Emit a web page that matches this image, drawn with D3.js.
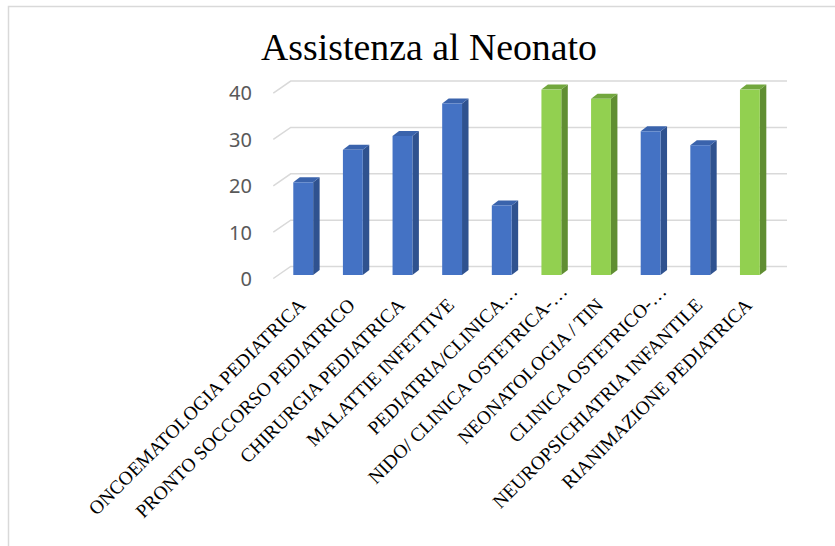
<!DOCTYPE html>
<html>
<head>
<meta charset="utf-8">
<script src="https://cdn.jsdelivr.net/npm/d3@7"></script>
<style>
  body { margin: 0; background: #fff; }
  svg { display: block; }
</style>
</head>
<body>
<div id="chart"></div>
<script>
// data
const categories = [
  'ONCOEMATOLOGIA PEDIATRICA',
  'PRONTO SOCCORSO PEDIATRICO',
  'CHIRURGIA PEDIATRICA',
  'MALATTIE INFETTIVE',
  'PEDIATRIA/CLINICA…',
  'NIDO/ CLINICA OSTETRICA-…',
  'NEONATOLOGIA / TIN',
  'CLINICA OSTETRICO-…',
  'NEUROPSICHIATRIA INFANTILE',
  'RIANIMAZIONE PEDIATRICA',
];
const values = [20, 27, 30, 37, 15, 40, 38, 31, 28, 40];
const highlighted = ['NIDO/ CLINICA OSTETRICA-…', 'NEONATOLOGIA / TIN', 'RIANIMAZIONE PEDIATRICA'];
const yTicks = [0, 10, 20, 30, 40];
const title = 'Assistenza al Neonato';

const width = 835;
const height = 546;

// 3d-ish offsets
const depth = { dx: 17.4, dy: 12 }; // floor / wall depth
const barDepth = { dx: 6.5, dy: 5 };
const frontShift = 12.3;

const palette = {
  normal: { front: '#4472C4', side: '#2F528F', top: '#3A63AC' },
  highlight: { front: '#92D050', side: '#608E32', top: '#72A73E' },
};

const svg = d3.select('#chart').append('svg')
  .attr('width', width)
  .attr('height', height);

// outer chart frame (runs off the page to the right and bottom)
svg.append('rect')
  .attr('x', 8.5)
  .attr('y', 6.5)
  .attr('width', 900)
  .attr('height', 700)
  .attr('fill', 'none')
  .attr('stroke', '#d9d9d9')
  .attr('stroke-width', 1.5);

svg.append('text')
  .attr('x', 429)
  .attr('y', 60)
  .attr('text-anchor', 'middle')
  .style('font-family', '"Liberation Serif", "Times New Roman", serif')
  .style('font-size', '37.8px')
  .style('fill', '#000')
  .text(title);

const x = d3.scaleBand()
  .domain(categories)
  .range([290.7, 787])
  .paddingInner(0.6)
  .paddingOuter(0.3);

const y = d3.scaleLinear()
  .domain([0, 40])
  .range([275, 89.6]);

// back wall gridlines with the floor diagonal on the left
const grid = svg.append('g').attr('class', 'grid');
yTicks.forEach((t) => {
  const yb = y(t) - 8.5;
  grid.append('path')
    .attr('d', `M${x.range()[0] - depth.dx},${yb + depth.dy}L${x.range()[0]},${yb}L${x.range()[1]},${yb}`)
    .attr('fill', 'none')
    .attr('stroke', '#d9d9d9')
    .attr('stroke-width', 1.5);
});

// y tick labels
svg.append('g').selectAll('text')
  .data(yTicks)
  .enter()
  .append('text')
  .attr('x', 252)
  .attr('y', (d) => y(d) + 5.5)
  .attr('text-anchor', 'end')
  .attr('dominant-baseline', 'middle')
  .style('font-family', '"Noto Sans", "Open Sans", sans-serif')
  .style('font-size', '20px')
  .style('fill', '#595959')
  .text((d) => d);

const data = categories.map((c, i) => ({ name: c, value: values[i] }));
const colorOf = (d) => (highlighted.includes(d.name) ? palette.highlight : palette.normal);

const bars = svg.append('g').selectAll('.bar')
  .data(data)
  .enter()
  .append('g')
  .attr('class', 'bar');

const bw = x.bandwidth();
const bx = (d) => x(d.name) - frontShift;

bars.append('path')
  .attr('d', (d) => {
    const x0 = bx(d) + bw;
    return `M${x0},${y(d.value)}L${x0 + barDepth.dx},${y(d.value) - barDepth.dy}`
      + `L${x0 + barDepth.dx},${y(0) - barDepth.dy}L${x0},${y(0)}Z`;
  })
  .attr('fill', (d) => colorOf(d).side);

bars.append('path')
  .attr('d', (d) => {
    const x0 = bx(d);
    const yt = y(d.value);
    return `M${x0},${yt}L${x0 + barDepth.dx},${yt - barDepth.dy}`
      + `L${x0 + bw + barDepth.dx},${yt - barDepth.dy}L${x0 + bw},${yt}Z`;
  })
  .attr('fill', (d) => colorOf(d).top);

bars.append('rect')
  .attr('x', bx)
  .attr('y', (d) => y(d.value))
  .attr('width', bw)
  .attr('height', (d) => y(0) - y(d.value))
  .attr('fill', (d) => colorOf(d).front);

// rotated category labels; a trailing ellipsis hangs past the anchor point
const labelFont = (sel) => sel
  .style('font-family', '"Liberation Serif", "Times New Roman", serif')
  .style('font-size', '19.3px')
  .style('fill', '#000');

const labels = svg.append('g').selectAll('g')
  .data(data)
  .enter()
  .append('g')
  .attr('transform', (d) => `translate(${bx(d) + bw / 2 - 6},297) rotate(-45)`);

labels.append('text')
  .attr('text-anchor', 'end')
  .attr('dy', '0.68em')
  .call(labelFont)
  .text((d) => d.name.replace(/…$/, ''));

labels.filter((d) => d.name.endsWith('…'))
  .append('text')
  .attr('text-anchor', 'start')
  .attr('dy', '0.68em')
  .call(labelFont)
  .text('…');
</script>
</body>
</html>
